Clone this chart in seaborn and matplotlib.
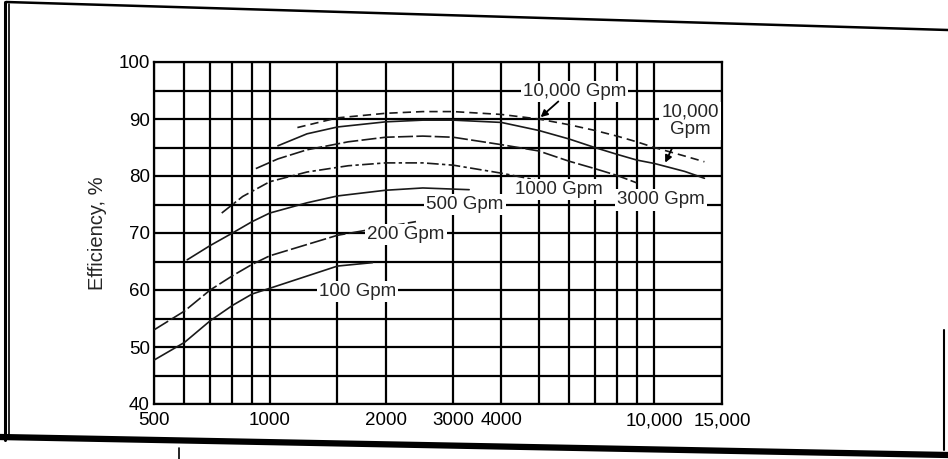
import matplotlib
matplotlib.use("Agg")
import matplotlib.pyplot as plt
import seaborn as sns
import pandas as pd
from matplotlib.lines import Line2D
from matplotlib.ticker import NullFormatter

# ------------------------------------------------------------
# Dados (velocidade específica x eficiência %)
# ------------------------------------------------------------
ns_10000_sup = [1180, 1500, 2000, 2500, 3000, 4000, 5000, 6000, 7000, 8000, 9000, 10000, 12000, 13500]
ef_10000_sup = [88.5, 90.2, 91.0, 91.3, 91.3, 90.8, 90.0, 89.0, 88.0, 87.0, 86.0, 85.0, 83.5, 82.5]

ns_10000 = [1050, 1250, 1500, 2000, 2500, 3000, 4000, 5000, 6000, 7000, 8000, 9000, 10000, 12000, 13500]
ef_10000 = [85.3, 87.4, 88.6, 89.5, 89.8, 89.8, 89.4, 88.0, 86.5, 85.0, 83.8, 82.8, 82.2, 80.8, 79.6]

ns_3000 = [920, 1050, 1250, 1600, 2000, 2500, 3000, 4000, 5000, 6000, 7000, 8000, 9000]
ef_3000 = [81.3, 83.0, 84.6, 86.0, 86.8, 87.0, 86.8, 85.5, 84.4, 82.6, 81.3, 80.1, 78.8]

ns_1000 = [750, 850, 1000, 1250, 1600, 2000, 2500, 3000, 4000, 5200]
ef_1000 = [73.5, 76.4, 79.0, 80.7, 81.8, 82.3, 82.3, 81.9, 80.5, 79.0]

ns_500 = [610, 700, 800, 900, 1000, 1250, 1500, 2000, 2500, 3300]
ef_500 = [65.3, 67.8, 70.0, 72.0, 73.5, 75.3, 76.5, 77.5, 77.9, 77.6]

ns_200 = [500, 600, 700, 800, 900, 1000, 1500, 2400]
ef_200 = [53.0, 56.3, 60.0, 62.5, 64.5, 66.0, 69.6, 72.0]

ns_100 = [500, 600, 700, 800, 900, 1000, 1500, 1850]
ef_100 = [47.7, 50.8, 54.6, 57.3, 59.3, 60.3, 64.2, 64.8]

curvas = {
    '10000 sup': (ns_10000_sup, ef_10000_sup),
    '10000': (ns_10000, ef_10000),
    '3000': (ns_3000, ef_3000),
    '1000': (ns_1000, ef_1000),
    '500': (ns_500, ef_500),
    '200': (ns_200, ef_200),
    '100': (ns_100, ef_100),
}
tracos = {
    '10000 sup': (5, 3),
    '10000': '',
    '3000': (9, 2),
    '1000': (7, 2, 2, 2),
    '500': '',
    '200': (10, 2),
    '100': '',
}

df = pd.concat(
    [pd.DataFrame({'ns': x, 'ef': y, 'curva': nome}) for nome, (x, y) in curvas.items()],
    ignore_index=True,
)

# rótulos das curvas (texto, posição x, posição y)
rotulos_txt = ['10,000 Gpm', '500 Gpm', '200 Gpm', '100 Gpm', '1000 Gpm']
rotulos_x = [6200, 3220, 2260, 1690, 5650]
rotulos_y = [94.8, 75.0, 69.8, 59.8, 77.6]

# eixos
x_ticks = [500, 1000, 2000, 3000, 4000, 10000, 15000]
x_ticklabels = ['500', '1000', '2000', '3000', '4000', '10,000', '15,000']
x_grade = [600, 700, 800, 900, 1500, 5000, 6000, 7000, 8000, 9000]
y_ticks = [40, 50, 60, 70, 80, 90, 100]
y_grade = [45, 55, 65, 75, 85, 95]

# ------------------------------------------------------------
# Gráfico
# ------------------------------------------------------------
sns.set_style('white')
plt.rcParams['font.family'] = ['Liberation Sans', 'DejaVu Sans']

fig = plt.figure(figsize=(9.48, 4.59), dpi=100)
ax = fig.add_axes([154 / 948, 1 - 404 / 459, 568 / 948, 342 / 459])

sns.lineplot(
    data=df, x='ns', y='ef', units='curva', estimator=None,
    style='curva', dashes=tracos, color='#1a1a1a', lw=1.2,
    legend=False, ax=ax, zorder=3,
)

ax.set_xscale('log')
ax.set_xlim(500, 15000)
ax.set_ylim(40, 100)
ax.set_xticks(x_ticks)
ax.set_xticklabels(x_ticklabels)
ax.set_xticks(x_grade, minor=True)
ax.xaxis.set_minor_formatter(NullFormatter())
ax.set_yticks(y_ticks)
ax.set_yticks(y_grade, minor=True)
ax.grid(True, which='both', color='black', lw=1.6, zorder=1)
ax.tick_params(which='both', length=0, labelsize=13.5, colors='black')
ax.tick_params(axis='x', pad=6)
ax.tick_params(axis='y', pad=3)
for sp in ax.spines.values():
    sp.set_color('black')
    sp.set_linewidth(1.6)
ax.set_xlabel('')
ax.set_ylabel('Efficiency, %', fontsize=14.5, labelpad=8)

caixa = dict(facecolor='white', edgecolor='none', pad=1.5)
for t, x, y in zip(rotulos_txt, rotulos_x, rotulos_y):
    ax.text(x, y, t, fontsize=13.5, ha='center', va='center', bbox=caixa, zorder=4)

ax.text(8000, 75.8, '3000 Gpm', fontsize=13.5, ha='left', va='center',
        bbox=caixa, zorder=4, clip_on=True)
ax.text(12400, 89.7, '10,000\nGpm', fontsize=13.5, ha='center', va='center',
        linespacing=1.0, bbox=caixa, zorder=4, clip_on=True)

# setas
ax.annotate('', xy=(5000, 90.0), xytext=(5700, 93.4),
            arrowprops=dict(arrowstyle='-|>', color='black', lw=1.3), zorder=5)
ax.annotate('', xy=(10600, 81.9), xytext=(11200, 85.3),
            arrowprops=dict(arrowstyle='-|>', color='black', lw=1.3), zorder=5)

# moldura da folha digitalizada
def linha_fig(x0, y0, x1, y1, lw):
    fig.add_artist(Line2D([x0 / 948, x1 / 948], [1 - y0 / 459, 1 - y1 / 459],
                          color='black', lw=lw, transform=fig.transFigure))

linha_fig(6, 2, 948, 30, 1.8)
linha_fig(5, 2, 5, 440, 2.2)
linha_fig(9, 4, 9, 438, 1.2)
linha_fig(0, 437, 948, 455, 4.5)
linha_fig(179, 448, 179, 459, 1.2)
linha_fig(944, 330, 944, 450, 1.5)

fig.savefig('out.png', dpi=100)
